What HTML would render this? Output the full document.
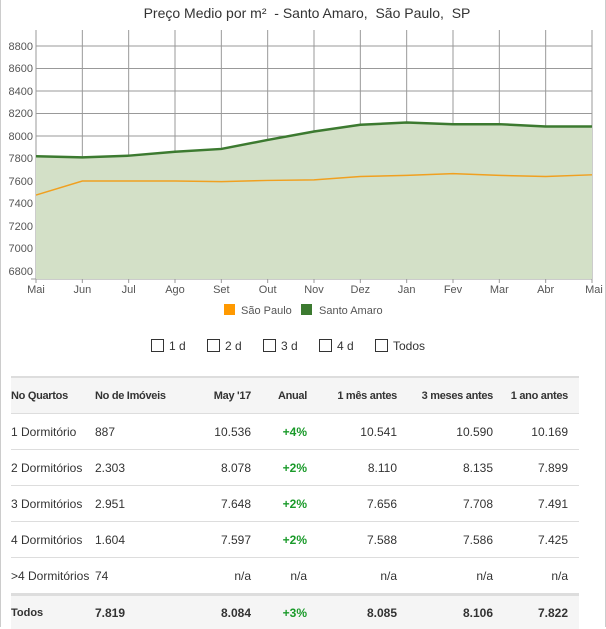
<!DOCTYPE html><html><head><meta charset="utf-8"><style>
body{margin:0;width:606px;height:627px;overflow:hidden;background:#fff;font-family:"Liberation Sans",sans-serif;}
.frame{position:absolute;left:0;top:0;width:604px;height:627px;border-left:1px solid #ccc;border-right:1px solid #ccc;}
.cb{position:absolute;top:339px;font-size:12px;color:#333}
.cb span{display:inline-block;width:11px;height:11px;border:1px solid #333;vertical-align:-2px;margin-right:5px}
table{position:absolute;left:11px;top:376px;width:568px;table-layout:fixed;border-collapse:collapse;font-size:12px;color:#333}
td,th{height:35px;padding:0;border-top:1px solid #ddd;white-space:nowrap;overflow:visible}
th{font-size:11px;font-weight:bold;background:#f5f5f5;height:35px;border-top:2px solid #ddd;letter-spacing:-0.3px}
.r{text-align:right}.l{text-align:left}
.g{color:#1a9a2a;font-weight:bold}
tr.t td{font-weight:bold;background:#f5f5f5;border-top:3px solid #ddd;height:33px}
</style></head><body><div class="frame"></div>
<svg width="606" height="320" style="position:absolute;left:0;top:0" font-family="Liberation Sans, sans-serif">
<text x="307" y="18" text-anchor="middle" font-size="14" fill="#333" style="white-space:pre">Preço Medio por m²  - Santo Amaro,  São Paulo,  SP</text>
<g stroke="#999" stroke-width="1">
<line x1="36" y1="46" x2="592" y2="46"/><line x1="36" y1="68.5" x2="592" y2="68.5"/><line x1="36" y1="91" x2="592" y2="91"/><line x1="36" y1="113.5" x2="592" y2="113.5"/><line x1="36" y1="136" x2="592" y2="136"/><line x1="36" y1="158.5" x2="592" y2="158.5"/><line x1="36" y1="181" x2="592" y2="181"/><line x1="36" y1="203.5" x2="592" y2="203.5"/><line x1="36" y1="226" x2="592" y2="226"/><line x1="36" y1="248.5" x2="592" y2="248.5"/><line x1="36" y1="271" x2="592" y2="271"/>
<line x1="31" y1="279" x2="592" y2="279"/>
</g>
<g stroke="#999" id="v"></g>
<g font-size="11" fill="#555" text-anchor="end">
<text x="33" y="50">8800</text><text x="33" y="72">8600</text><text x="33" y="95">8400</text><text x="33" y="117">8200</text><text x="33" y="140">8000</text><text x="33" y="162">7800</text><text x="33" y="185">7600</text><text x="33" y="207">7400</text><text x="33" y="230">7200</text><text x="33" y="252">7000</text><text x="33" y="275">6800</text>
</g>
<g id="xl" font-size="11" fill="#555" text-anchor="middle"></g>
<polygon id="area" fill="#d3e0c7" stroke="none"/>
<polyline id="sa" fill="none" stroke="#3c7a30" stroke-width="2.5"/>
<polyline id="sp" fill="none" stroke="#f0a020" stroke-width="1.5"/>
<rect x="224" y="304" width="11" height="11" fill="#f90"/>
<text x="241" y="314" font-size="11" fill="#555">São Paulo</text>
<rect x="301" y="304" width="11" height="11" fill="#3c7a30"/>
<text x="319" y="314" font-size="11" fill="#555">Santo Amaro</text>
</svg>
<script>
var m=["Mai","Jun","Jul","Ago","Set","Out","Nov","Dez","Jan","Fev","Mar","Abr","Mai"];
var sa=[7820,7810,7825,7860,7885,7965,8040,8100,8120,8105,8105,8085,8085];
var sp=[7475,7600,7600,7600,7595,7605,7610,7640,7650,7665,7650,7640,7655];
function X(i){return 36+i*556/12}function Y(v){return 271-(v-6800)*0.1125}
var ns="http://www.w3.org/2000/svg",v=document.getElementById("v"),xl=document.getElementById("xl");
var a=[],b=[];
for(var i=0;i<13;i++){var l=document.createElementNS(ns,"line");l.setAttribute("x1",X(i));l.setAttribute("x2",X(i));l.setAttribute("y1",30);l.setAttribute("y2",283);v.appendChild(l);
var t=document.createElementNS(ns,"text");t.setAttribute("x",X(i)-(i==12?-2:0));t.setAttribute("y",293);t.textContent=m[i];xl.appendChild(t);
a.push(X(i)+","+Y(sa[i]));b.push(X(i)+","+Y(sp[i]));}
document.getElementById("sa").setAttribute("points",a.join(" "));
document.getElementById("sp").setAttribute("points",b.join(" "));
document.getElementById("area").setAttribute("points",a.join(" ")+" 592,279 36,279");
</script>
<div class="cb" style="left:151px"><span></span>1 d</div>
<div class="cb" style="left:207px"><span></span>2 d</div>
<div class="cb" style="left:263px"><span></span>3 d</div>
<div class="cb" style="left:319px"><span></span>4 d</div>
<div class="cb" style="left:375px"><span></span>Todos</div>
<table>
<colgroup><col style="width:84px"><col style="width:95px"><col style="width:61px"><col style="width:56px"><col style="width:90px"><col style="width:96px"><col style="width:75px"><col style="width:11px"></colgroup>
<tr><th class="l">No Quartos</th><th class="l">No de Imóveis</th><th class="r">May '17</th><th class="r">Anual</th><th class="r">1 mês antes</th><th class="r">3 meses antes</th><th class="r">1 ano antes</th><th></th></tr>
<tr><td>1 Dormitório</td><td>887</td><td class="r">10.536</td><td class="r g">+4%</td><td class="r">10.541</td><td class="r">10.590</td><td class="r">10.169</td><td></td></tr>
<tr><td>2 Dormitórios</td><td>2.303</td><td class="r">8.078</td><td class="r g">+2%</td><td class="r">8.110</td><td class="r">8.135</td><td class="r">7.899</td><td></td></tr>
<tr><td>3 Dormitórios</td><td>2.951</td><td class="r">7.648</td><td class="r g">+2%</td><td class="r">7.656</td><td class="r">7.708</td><td class="r">7.491</td><td></td></tr>
<tr><td>4 Dormitórios</td><td>1.604</td><td class="r">7.597</td><td class="r g">+2%</td><td class="r">7.588</td><td class="r">7.586</td><td class="r">7.425</td><td></td></tr>
<tr><td>&gt;4 Dormitórios</td><td>74</td><td class="r">n/a</td><td class="r">n/a</td><td class="r">n/a</td><td class="r">n/a</td><td class="r">n/a</td><td></td></tr>
<tr class="t"><td style="font-size:11px">Todos</td><td>7.819</td><td class="r">8.084</td><td class="r g">+3%</td><td class="r">8.085</td><td class="r">8.106</td><td class="r">7.822</td><td></td></tr>
</table>
</body></html>
